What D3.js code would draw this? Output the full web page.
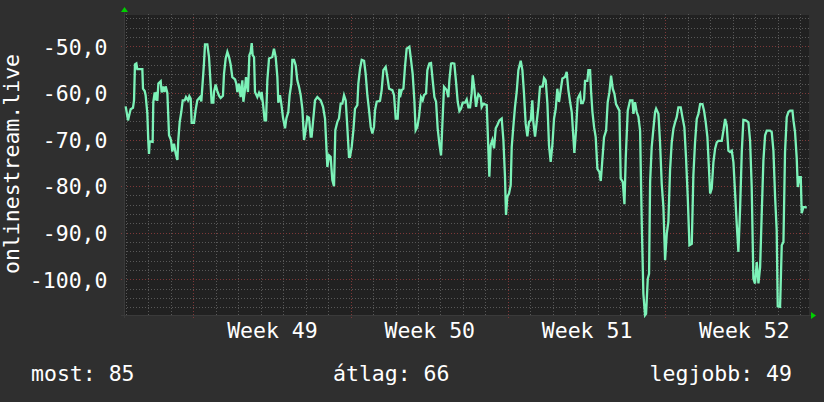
<!DOCTYPE html>
<html>
<head>
<meta charset="utf-8">
<script src="https://cdn.jsdelivr.net/npm/d3@7"></script>
<style>
	body { margin: 0; background: #2f2f2f; }
	text { font-family: "DejaVu Sans Mono", monospace; fill: #ffffff; }
</style>
</head>
<body>
<div id="chart"></div>
<script>
// Hours since the left edge of the graph
var hours = [
	1.8, 4.3, 5.3, 7.1, 9.6, 10.7, 11.7, 13.2, 14.2, 19.6, 20.3, 22.1, 23.1, 24.9, 26.0, 26.7, 27.4, 30.6, 31.3, 32.8,
	33.8, 34.9, 35.6, 36.7, 39.2, 40.2, 41.7, 43.1, 44.5, 46.3, 48.1, 50.2, 51.6, 53.4, 55.2, 57.0, 58.0, 59.5, 61.2, 62.7,
	64.8, 66.2, 68.4, 69.8, 71.2, 72.3, 74.8, 76.5, 78.3, 81.2, 82.6, 84.4, 85.4, 86.5, 89.0, 90.8, 92.6, 93.6, 95.4, 96.1,
	97.9, 99.7, 101.5, 103.2, 105.7, 106.8, 108.6, 110.4, 112.2, 113.9, 115.7, 118.6, 120.0, 121.1, 122.8, 124.6, 126.4, 127.5, 128.9, 130.3,
	132.4, 133.9, 135.3, 136.4, 137.4, 138.9, 139.9, 142.4, 144.2, 146.0, 147.0, 148.8, 150.2, 151.7, 153.1, 154.9, 158.4, 160.2, 162.0, 163.8,
	164.8, 166.6, 168.0, 169.8, 172.0, 173.4, 175.5, 176.9, 178.7, 179.8, 181.6, 183.4, 185.1, 186.9, 188.7, 190.5, 192.3, 194.0, 195.8, 197.6,
	199.4, 200.4, 202.2, 204.0, 206.5, 210.1, 212.6, 214.7, 217.2, 219.0, 220.7, 222.5, 224.3, 225.7, 227.9, 229.6, 231.4, 233.2, 235.0, 236.8,
	238.5, 240.3, 241.4, 243.2, 245.0, 246.7, 249.2, 250.3, 252.1, 253.9, 256.4, 258.1, 259.9, 261.7, 263.5, 265.3, 267.0, 268.1, 269.9, 273.4,
	275.2, 277.0, 279.5, 281.3, 283.1, 286.6, 288.4, 290.2, 292.3, 294.1, 294.8, 296.6, 298.4, 300.1, 301.9, 304.8, 306.6, 308.3, 310.1, 311.5,
	313.3, 315.1, 317.2, 319.0, 320.4, 322.6, 324.0, 326.1, 327.9, 329.7, 331.5, 333.3, 335.0, 336.8, 338.6, 340.0, 341.8, 344.6, 346.4, 347.5,
	349.3, 350.7, 352.8, 354.6, 356.4, 358.2, 359.9, 361.7, 364.2, 366.0, 367.8, 369.6, 371.3, 372.4, 374.2, 376.0, 377.4, 378.5, 381.0, 382.0,
	383.8, 387.4, 388.4, 390.2, 391.6, 393.4, 395.2, 397.0, 398.8, 400.9, 403.4, 405.2, 406.9, 408.0, 409.4, 411.2, 413.0, 414.1, 415.8, 417.6,
	419.4, 421.2, 423.7, 425.5, 427.2, 429.0, 430.8, 432.6, 434.4, 436.1, 437.2, 439.0, 440.8, 442.6, 444.3, 447.2, 448.6, 450.4, 452.2, 453.9,
	455.7, 457.5, 459.3, 461.1, 462.8, 464.6, 466.4, 468.2, 471.0, 472.8, 474.6, 476.4, 478.2, 479.9, 481.0, 482.8, 484.6, 486.3, 487.1, 488.2,
	490.0, 491.4, 492.4, 494.9, 496.0, 497.8, 498.8, 500.3, 502.1, 503.8, 505.6, 507.8, 509.2, 510.6, 512.7, 514.9, 516.6, 518.4, 520.2, 522.0,
	523.8, 525.5, 527.3, 529.1, 530.5, 532.7, 534.5, 535.9, 538.0, 540.5, 543.0, 544.1, 545.8, 547.6, 549.4, 551.2, 553.0, 554.7, 556.5, 557.6,
	559.4, 560.8, 561.9, 563.6, 565.4, 567.2, 568.3, 570.8, 572.5, 574.3, 576.1, 577.9, 579.7, 581.4, 583.2, 585.0, 586.8, 588.6, 590.3, 592.1,
	594.6, 596.4, 598.5, 600.3, 602.1, 603.9, 606.4, 608.1, 609.9, 611.7, 613.5, 615.3, 617.8, 619.5, 621.3, 623.1, 624.5, 626.0, 627.7, 629.5,
	631.3, 633.1, 634.8, 638.4, 640.2, 642.0, 643.7, 645.5, 647.3, 649.1, 650.9, 652.6, 654.4, 656.2, 658.0, 659.8, 661.5, 664.0, 666.9, 668.7,
	670.4, 672.2, 674.0, 675.8, 677.6, 679.4, 681.1, 682.9, 684.7, 686.5, 690.0, 691.8, 693.6, 695.4, 697.1, 698.2, 700.7, 702.5, 704.3, 706.0,
	707.8, 709.6, 711.4, 713.9, 715.0, 716.7, 718.5, 719.6, 721.4, 722.8, 723.8, 725.6, 727.4, 729.2
];

// Rank of onlinestream.live (plotted as negative)
var ranks = [
	-62.9, -65.9, -65.0, -63.5, -63.2, -61.6, -53.9, -53.7, -54.9, -54.9, -59.1, -59.6, -60.5, -64.4, -70.5, -73.1, -70.4, -70.5, -61.9, -59.9,
	-61.6, -59.8, -61.7, -58.0, -57.5, -59.9, -58.6, -59.8, -58.6, -60.0, -69.1, -70.1, -72.6, -70.9, -73.0, -74.4, -70.1, -66.2, -64.1, -61.6,
	-61.6, -60.9, -61.6, -60.7, -61.2, -66.4, -66.4, -63.7, -61.6, -60.9, -61.8, -56.6, -53.7, -49.6, -49.6, -52.3, -58.4, -62.1, -62.1, -59.8,
	-58.2, -59.6, -60.6, -61.1, -60.6, -55.9, -52.6, -51.2, -52.3, -53.9, -56.6, -57.1, -58.1, -59.8, -58.0, -60.9, -57.3, -61.9, -59.8, -56.6,
	-59.8, -51.9, -51.2, -49.3, -51.9, -52.3, -59.8, -60.9, -60.0, -60.9, -59.8, -63.0, -65.9, -65.9, -57.3, -52.6, -52.3, -50.5, -52.3, -56.6,
	-62.1, -60.5, -62.3, -65.3, -67.6, -65.5, -64.1, -60.5, -58.0, -52.9, -52.9, -54.1, -57.3, -58.7, -60.5, -63.4, -70.1, -68.0, -65.1, -65.3,
	-69.4, -69.4, -65.5, -61.6, -60.9, -61.6, -63.0, -65.5, -75.9, -73.4, -73.7, -78.7, -80.0, -68.0, -66.2, -65.5, -62.3, -62.3, -60.5, -61.6,
	-67.3, -73.7, -73.7, -71.6, -68.0, -63.4, -62.6, -58.0, -54.8, -52.9, -53.1, -55.9, -60.5, -63.7, -67.3, -68.7, -67.3, -63.7, -61.9, -61.7,
	-59.4, -55.1, -54.4, -56.6, -59.1, -59.4, -60.5, -65.5, -65.5, -59.1, -60.9, -59.4, -59.1, -54.4, -50.5, -50.1, -53.0, -55.9, -61.6, -68.0,
	-67.3, -65.1, -60.9, -61.6, -60.5, -60.1, -55.1, -53.7, -53.6, -57.3, -60.9, -61.9, -67.6, -70.9, -73.4, -66.9, -58.7, -59.4, -60.9, -57.3,
	-53.7, -53.6, -53.7, -57.6, -61.9, -63.9, -63.4, -62.1, -62.1, -61.4, -63.1, -63.1, -60.1, -56.2, -59.1, -63.0, -61.2, -60.3, -60.9, -63.0,
	-62.3, -62.6, -68.0, -78.0, -71.2, -70.1, -71.9, -67.6, -66.9, -65.9, -65.5, -70.1, -78.0, -86.2, -82.3, -81.6, -79.8, -71.6, -67.3, -63.0,
	-59.8, -55.1, -53.1, -55.1, -60.1, -66.6, -69.3, -66.2, -65.9, -61.6, -66.2, -69.4, -66.2, -63.0, -58.7, -58.6, -56.8, -57.3, -62.3, -71.2,
	-74.8, -71.2, -65.5, -63.4, -59.1, -61.9, -59.4, -56.9, -56.6, -55.5, -59.4, -61.9, -64.1, -69.4, -72.9, -68.0, -61.2, -60.5, -60.2, -62.2,
	-62.2, -61.3, -57.4, -57.4, -55.1, -55.1, -59.5, -64.1, -67.4, -69.5, -76.3, -77.0, -78.9, -75.2, -69.5, -68.1, -62.0, -59.9, -56.3, -59.1,
	-60.2, -62.4, -63.1, -63.8, -78.4, -79.1, -83.9, -73.8, -63.8, -61.6, -61.6, -64.5, -62.0, -64.1, -65.1, -68.1, -88.1, -103.1, -107.7, -107.4,
	-99.9, -98.8, -79.1, -71.6, -67.7, -64.1, -63.4, -64.5, -70.6, -79.5, -84.5, -95.9, -90.2, -87.7, -76.6, -70.6, -67.7, -66.3, -65.2, -63.1,
	-63.1, -65.2, -67.4, -74.1, -82.4, -92.7, -92.4, -77.7, -70.6, -65.6, -64.5, -62.4, -62.4, -63.8, -66.3, -69.5, -75.2, -81.6, -80.5, -74.9,
	-72.0, -70.6, -70.3, -70.3, -68.1, -65.6, -67.0, -72.4, -72.7, -72.4, -74.9, -81.3, -88.1, -94.1, -84.9, -72.7, -65.8, -65.9, -66.3, -70.3,
	-80.2, -99.9, -100.9, -96.3, -100.9, -97.4, -86.0, -74.5, -69.1, -68.1, -68.1, -68.4, -72.4, -82.4, -89.5, -105.8, -105.9, -92.7, -92.0, -72.7,
	-65.2, -64.1, -63.8, -63.8, -65.9, -68.4, -74.1, -80.2, -78.1, -78.1, -85.8, -84.5, -84.5, -84.6
];

// Axis labels and legend
var weekLabels = ["Week 49", "Week 50", "Week 51", "Week 52"];
var yTicks = [-100, -90, -80, -70, -60, -50];
var legendLabels = ["most: 85", "átlag: 66", "legjobb: 49"];

// Set up SVG width and height
var svgWidth = 824;
var svgHeight = 402;

// Plot area
var margin = { top: 15, right: 15, bottom: 87, left: 124 };
var width = svgWidth - margin.left - margin.right;
var height = svgHeight - margin.top - margin.bottom;

var totalHours = 731.6;
var firstWeek = 74; // hour of the first Monday
var firstDay = 2;   // hour of the first midnight

var svg = d3.select("#chart")
	.append("svg")
	.attr("width", svgWidth)
	.attr("height", svgHeight)
	.style("display", "block");

svg.append("rect")
	.attr("width", svgWidth)
	.attr("height", svgHeight)
	.attr("fill", "#2f2f2f");

var chartGroup = svg.append("g")
	.attr("transform", `translate(${margin.left}, ${margin.top})`);

chartGroup.append("rect")
	.attr("width", width)
	.attr("height", height)
	.attr("fill", "#212121");

// Scales
var xScale = d3.scaleLinear()
	.domain([0, totalHours])
	.range([0, width]);

var yScale = d3.scaleLinear()
	.domain([-107.66, -43.28])
	.range([height, 0]);

// Grid lines
var dayTicks = d3.range(firstDay, totalHours, 24);
var weekTicks = d3.range(firstWeek, totalHours, 168);
var minorY = d3.range(-106, -43, 2);

function gridStyle(g, color) {
	g.select(".domain").remove();
	g.selectAll("line")
		.attr("stroke", color)
		.attr("stroke-width", 1)
		.attr("stroke-dasharray", "1,2")
		.attr("shape-rendering", "crispEdges");
}

chartGroup.append("g")
	.attr("transform", `translate(0, ${height})`)
	.call(d3.axisBottom(xScale).tickValues(dayTicks).tickSize(-height - 2).tickSizeOuter(0).tickFormat(""))
	.call(g => gridStyle(g, "#585858"));

chartGroup.append("g")
	.call(d3.axisLeft(yScale).tickValues(minorY).tickSize(-width - 2).tickSizeOuter(0).tickFormat(""))
	.attr("transform", "translate(0, 0)")
	.call(g => gridStyle(g, "#585858"));

chartGroup.append("g")
	.attr("transform", `translate(0, ${height + 3})`)
	.call(d3.axisBottom(xScale).tickValues(weekTicks).tickSize(-height - 3).tickSizeOuter(0).tickFormat(""))
	.call(g => gridStyle(g, "#7e3838"));

chartGroup.append("g")
	.attr("transform", "translate(-3, 0)")
	.call(d3.axisLeft(yScale).tickValues(yTicks).tickSize(-width - 3).tickSizeOuter(0).tickFormat(""))
	.call(g => gridStyle(g, "#7e3838"));

// Axis lines
chartGroup.append("line")
	.attr("x1", -3).attr("x2", width + 3)
	.attr("y1", height + 0.5).attr("y2", height + 0.5)
	.attr("stroke", "#3a3a3a");

chartGroup.append("line")
	.attr("x1", 0.5).attr("x2", 0.5)
	.attr("y1", -4).attr("y2", height + 3)
	.attr("stroke", "#3a3a3a");

// Arrows
chartGroup.append("path")
	.attr("d", `M${-3},${-3} L${0.5},${-8} L${4},${-3} Z`)
	.attr("fill", "#00d000");

chartGroup.append("path")
	.attr("d", `M${width + 2},${height - 3} L${width + 7},${height + 0.5} L${width + 2},${height + 4} Z`)
	.attr("fill", "#00d000");

// Y axis labels
var yAxis = chartGroup.append("g")
	.call(d3.axisLeft(yScale)
		.tickValues(yTicks)
		.tickSize(0)
		.tickPadding(16.5)
		.tickFormat(d => d3.format(".1f")(d).replace("−", "-").replace(".", ",")));
yAxis.select(".domain").remove();
yAxis.selectAll("text")
	.attr("fill", "#ffffff")
	.style("font-family", "'DejaVu Sans Mono', monospace")
	.style("font-size", "21.5px")
	.attr("dy", "0.36em");

// X axis labels in the middle of each week
var xAxis = chartGroup.append("g")
	.attr("transform", `translate(0, ${height})`)
	.call(d3.axisBottom(xScale)
		.tickValues(weekTicks.map(d => d + 84))
		.tickSize(0)
		.tickPadding(8)
		.tickFormat((d, i) => weekLabels[i]));
xAxis.select(".domain").remove();
xAxis.selectAll("text")
	.attr("fill", "#ffffff")
	.style("font-family", "'DejaVu Sans Mono', monospace")
	.style("font-size", "21.5px");

// The data line
var line = d3.line()
	.x((d, i) => xScale(hours[i]))
	.y(d => yScale(d));

chartGroup.append("path")
	.datum(ranks)
	.attr("d", line)
	.attr("fill", "none")
	.attr("stroke", "#7cf2b8")
	.attr("stroke-width", 2.3)
	.attr("stroke-linejoin", "miter");

// Y axis title
svg.append("text")
	.attr("transform", `translate(19, 164) rotate(-90)`)
	.attr("text-anchor", "middle")
	.style("font-size", "21.5px")
	.text("onlinestream.live");

// Legend
svg.append("text")
	.attr("x", 31)
	.attr("y", 381)
	.style("font-size", "21.5px")
	.text(legendLabels[0]);

svg.append("text")
	.attr("x", 333)
	.attr("y", 381)
	.style("font-size", "21.5px")
	.text(legendLabels[1]);

svg.append("text")
	.attr("x", 792)
	.attr("y", 381)
	.attr("text-anchor", "end")
	.style("font-size", "21.5px")
	.text(legendLabels[2]);
</script>
</body>
</html>
